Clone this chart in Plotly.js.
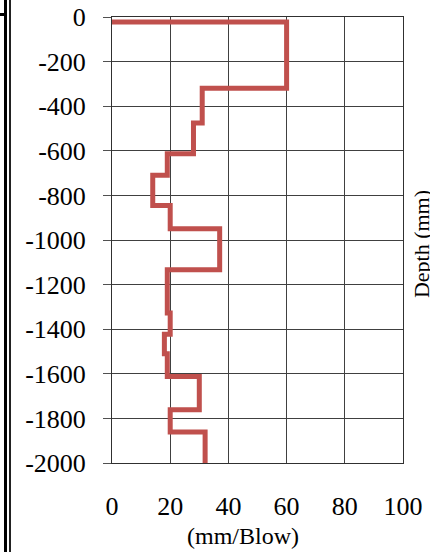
<!DOCTYPE html>
<html>
<head>
<meta charset="utf-8">
<script src="https://cdn.plot.ly/plotly-3.0.1.min.js"></script>
<style>
  html, body { margin: 0; padding: 0; background: #fff; }
  #wrap { position: relative; width: 430px; height: 552px; overflow: hidden; }
  #chart { position: absolute; left: 0; top: 0; width: 430px; height: 552px; }
  .frame1 { position: absolute; left: 4px; top: 0; width: 3px; height: 552px; background: #000; }
  .frame2 { position: absolute; left: 9px; top: 0; width: 2px; height: 552px; background: #222; }
  .stub { position: absolute; left: 0; top: 13px; width: 5px; height: 3px; background: #000; }
</style>
</head>
<body>
<div id="wrap">
  <div id="chart"></div>
  <div class="frame1"></div>
  <div class="frame2"></div>
  <div class="stub"></div>
</div>
<script>
// Step profile: blows value (mm/Blow) reached at each depth boundary (mm)
var depthMm = [-22, -320, -475, -613, -710, -845, -949, -1133, -1327, -1423, -1510, -1612, -1761, -1861, -2000];
var mmPerBlow = [0, 60, 31, 28, 19, 14, 20, 37, 19, 20, 18, 19, 30, 20, 32];

var xTickVals = [0, 20, 40, 60, 80, 100];
var xTickText = ["0", "20", "40", "60", "80", "100"];
var yTickVals = [0, -200, -400, -600, -800, -1000, -1200, -1400, -1600, -1800, -2000];
var yTickText = ["0", "-200", "-400", "-600", "-800", "-1000", "-1200", "-1400", "-1600", "-1800", "-2000"];

var serif = "Liberation Serif, Times New Roman, serif";

var trace = {
  x: mmPerBlow,
  y: depthMm,
  type: "scatter",
  mode: "lines",
  line: { color: "#C0504D", width: 5, shape: "hv" },
  hoverinfo: "skip",
  showlegend: false
};

var layout = {
  width: 430,
  height: 552,
  margin: { l: 112, r: 27, t: 17, b: 89, pad: 0 },
  paper_bgcolor: "#ffffff",
  plot_bgcolor: "#ffffff",
  showlegend: false,
  font: { family: serif, size: 26, color: "#000" },
  xaxis: {
    range: [0, 100],
    tickmode: "array",
    tickvals: xTickVals,
    ticktext: xTickText,
    ticks: "outside",
    ticklen: 20,
    tickcolor: "rgba(0,0,0,0)",
    tickfont: { family: serif, size: 26, color: "#000" },
    showgrid: true,
    gridcolor: "#404040",
    gridwidth: 1,
    zeroline: false,
    showline: true,
    linecolor: "#303030",
    linewidth: 1,
    mirror: true,
    fixedrange: true
  },
  xaxis2: {
    range: [0, 100],
    overlaying: "x",
    side: "top",
    anchor: "y",
    tickmode: "array",
    tickvals: xTickVals,
    ticks: "outside",
    ticklen: 8,
    tickcolor: "#303030",
    tickwidth: 1,
    showticklabels: false,
    showgrid: false,
    zeroline: false,
    showline: false,
    fixedrange: true
  },
  yaxis: {
    range: [-2000, 0],
    tickmode: "array",
    tickvals: yTickVals,
    ticktext: yTickText,
    ticks: "outside",
    ticklen: 8,
    tickcolor: "#505050",
    tickwidth: 1,
    ticklabelstandoff: 12,
    tickfont: { family: serif, size: 26, color: "#000" },
    showgrid: true,
    gridcolor: "#404040",
    gridwidth: 1,
    zeroline: false,
    showline: true,
    linecolor: "#303030",
    linewidth: 1,
    mirror: true,
    fixedrange: true
  },
  annotations: [
    {
      text: "(mm/Blow)",
      xref: "paper", yref: "paper",
      x: 0.451, y: -0.164,
      xanchor: "center", yanchor: "middle",
      showarrow: false,
      font: { family: serif, size: 24, color: "#000" }
    },
    {
      text: "Depth (mm)",
      xref: "paper", yref: "paper",
      x: 1.064, y: 0.49,
      xanchor: "center", yanchor: "middle",
      textangle: -90,
      showarrow: false,
      font: { family: serif, size: 22, color: "#000" }
    }
  ]
};

Plotly.newPlot("chart", [trace], layout, { staticPlot: true, displayModeBar: false });
</script>
</body>
</html>
